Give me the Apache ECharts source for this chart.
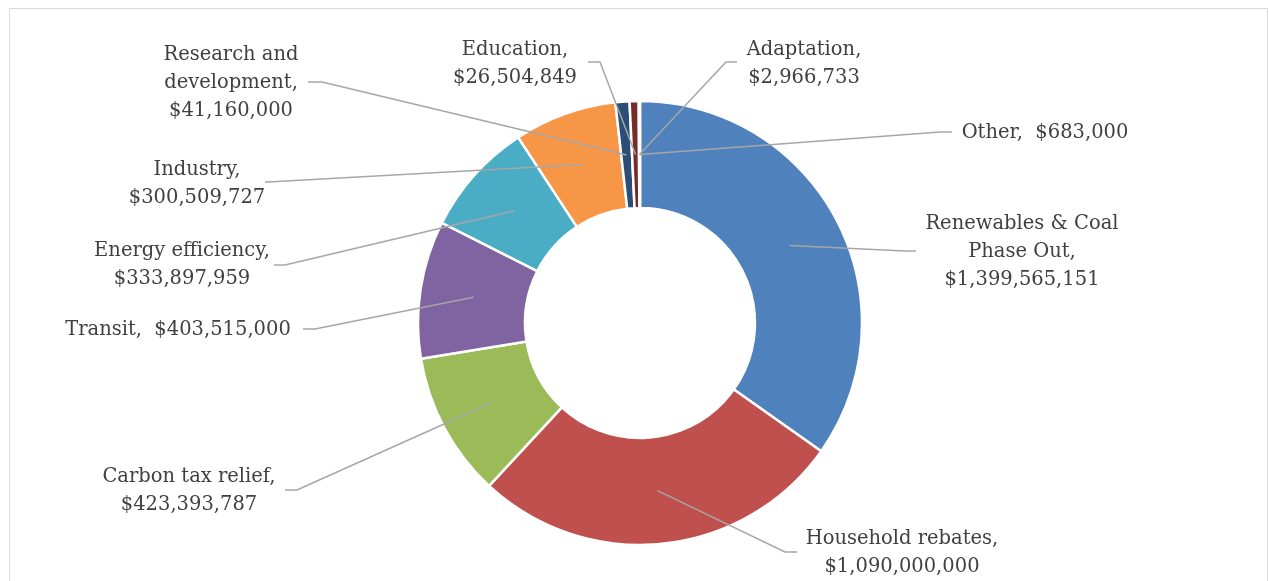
<!DOCTYPE html>
<html>
<head>
<meta charset="utf-8">
<script src="https://cdn.jsdelivr.net/npm/echarts@6/dist/echarts.min.js"></script>
<style>
  html, body { margin: 0; padding: 0; background: #fff; }
  #chart { width: 1269px; height: 581px; }
</style>
</head>
<body>
<div id="chart"></div>
<script>
// slices, clockwise from 12 o'clock
var names = ['Renewables & Coal\nPhase Out', 'Household rebates', 'Carbon tax relief', 'Transit',
  'Energy efficiency', 'Industry', 'Research and\ndevelopment', 'Education', 'Adaptation', 'Other']
var amounts = [1399565151, 1090000000, 423393787, 403515000, 333897959, 300509727, 41160000, 26504849, 2966733, 683000]
var colors = ['#4f81bd', '#c0504d', '#9bbb59', '#8064a2', '#4bacc6', '#f79646', '#2c4d75', '#772c2a', '#5f7530', '#4d3b62']
// which labels sit on one line
var oneLine = ['Transit', 'Other']

// label placement (text centre, elbow of leader, leader tip near text)
var spots = [
  { x: 1022, y: 252, elbow: [905, 251], tip: [916, 251] },
  { x: 902, y: 553, elbow: [785, 552], tip: [797, 552] },
  { x: 189, y: 491, elbow: [297, 490], tip: [285, 490] },
  { x: 178, y: 330, elbow: [315, 329], tip: [303, 329] },
  { x: 182, y: 265, elbow: [285, 265], tip: [274, 265] },
  { x: 197, y: 184, elbow: [268, 182], tip: [265, 182] },
  { x: 231, y: 83, elbow: [322, 82], tip: [308, 82] },
  { x: 515, y: 64, elbow: [600, 62], tip: [588, 62] },
  { x: 804, y: 64, elbow: [726, 62], tip: [737, 62] },
  { x: 1045, y: 133, elbow: [940, 132], tip: [952, 132] }
]

var cx = 640, cy = 323, rIn = 115, rOut = 222

var total = amounts.reduce(function (a, b) { return a + b }, 0)

function money(v) {
  return '$' + v.toString().replace(/\B(?=(\d{3})+(?!\d))/g, ',')
}

// point inside the ring at the middle of a slice
function midPoint(idx) {
  var before = 0
  for (var i = 0; i < idx; i++) before += amounts[i]
  var a = (before + amounts[idx] / 2) / total * Math.PI * 2
  var r = (rIn + rOut) / 2
  return [cx + r * Math.sin(a), cy - r * Math.cos(a)]
}

var pieData = names.map(function (n, i) {
  return { name: n, value: amounts[i], itemStyle: { color: colors[i] } }
})

var chart = echarts.init(document.getElementById('chart'))

chart.setOption({
  backgroundColor: '#fff',
  animation: false,
  graphic: [{
    type: 'rect',
    shape: { x: 9.5, y: 8.5, width: 1258, height: 600 },
    style: { fill: 'none', stroke: '#d9d9d9', lineWidth: 1 },
    silent: true
  }],
  series: [
    {
      // the ring itself
      type: 'pie',
      center: [cx, cy],
      radius: [rIn, rOut],
      startAngle: 90,
      clockwise: true,
      itemStyle: { borderColor: '#fff', borderWidth: 2.5 },
      label: { show: false },
      labelLine: { show: false },
      emphasis: { disabled: true },
      data: pieData
    },
    {
      // same slices, invisible, carrying the labels so the leaders sit over the ring
      type: 'pie',
      z: 5,
      silent: true,
      center: [cx, cy],
      radius: [rIn, rOut],
      startAngle: 90,
      clockwise: true,
      avoidLabelOverlap: false,
      itemStyle: { color: 'rgba(0,0,0,0)', borderWidth: 0 },
      label: {
        show: true,
        position: 'outside',
        fontFamily: 'DejaVu Serif',
        fontSize: 19.5,
        lineHeight: 28,
        color: '#404040',
        align: 'center',
        formatter: function (p) {
          var sep = oneLine.indexOf(p.name) >= 0 ? ',  ' : ',\n'
          return p.name + sep + money(p.value)
        }
      },
      labelLine: {
        show: true,
        lineStyle: { color: '#a6a6a6', width: 1.5 }
      },
      labelLayout: function (params) {
        var s = spots[params.dataIndex]
        return {
          x: s.x,
          y: s.y,
          align: 'center',
          verticalAlign: 'middle',
          labelLinePoints: [midPoint(params.dataIndex), s.elbow, s.tip]
        }
      },
      emphasis: { disabled: true },
      data: names.map(function (n, i) { return { name: n, value: amounts[i] } })
    }
  ]
})
</script>
</body>
</html>
